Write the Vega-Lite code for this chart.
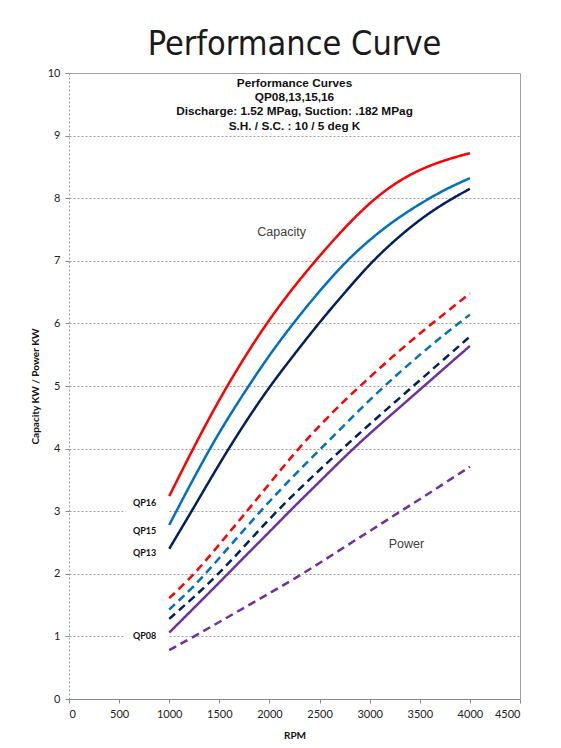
{
  "$schema": "https://vega.github.io/schema/vega-lite/v6.json",
  "autosize": "none",
  "width": 451,
  "height": 626,
  "padding": {"left": 69, "top": 73, "right": 41, "bottom": 49},
  "background": "white",
  "title": {
    "text": "Performance Curve",
    "font": "Liberation Sans Narrow, DejaVu Sans Condensed, sans-serif",
    "fontSize": 34,
    "fontWeight": "normal",
    "color": "#1a1a1a",
    "anchor": "middle",
    "frame": "group",
    "baseline": "top",
    "offset": 5
  },
  "config": {
    "view": {"stroke": null},
    "axis": {
      "labelFont": "Lato",
      "labelFontSize": 11,
      "labelColor": "#222222",
      "titleFont": "Lato",
      "titleFontSize": 10,
      "titleFontWeight": "bold",
      "titleColor": "#111111",
      "tickColor": "#8a8a8a",
      "tickSize": 4,
      "domainColor": "#8a8a8a"
    }
  },
  "datasets": {
    "curves": [
      {"model": "QP16", "kind": "Capacity", "rpm": 1000, "kw": 3.24},
      {"model": "QP16", "kind": "Capacity", "rpm": 1250, "kw": 4.04},
      {"model": "QP16", "kind": "Capacity", "rpm": 1500, "kw": 4.79},
      {"model": "QP16", "kind": "Capacity", "rpm": 1750, "kw": 5.46},
      {"model": "QP16", "kind": "Capacity", "rpm": 2000, "kw": 6.07},
      {"model": "QP16", "kind": "Capacity", "rpm": 2250, "kw": 6.60},
      {"model": "QP16", "kind": "Capacity", "rpm": 2500, "kw": 7.08},
      {"model": "QP16", "kind": "Capacity", "rpm": 2750, "kw": 7.53},
      {"model": "QP16", "kind": "Capacity", "rpm": 3000, "kw": 7.93},
      {"model": "QP16", "kind": "Capacity", "rpm": 3250, "kw": 8.24},
      {"model": "QP16", "kind": "Capacity", "rpm": 3500, "kw": 8.46},
      {"model": "QP16", "kind": "Capacity", "rpm": 3750, "kw": 8.61},
      {"model": "QP16", "kind": "Capacity", "rpm": 4000, "kw": 8.72},
      {"model": "QP15", "kind": "Capacity", "rpm": 1000, "kw": 2.78},
      {"model": "QP15", "kind": "Capacity", "rpm": 1250, "kw": 3.55},
      {"model": "QP15", "kind": "Capacity", "rpm": 1500, "kw": 4.27},
      {"model": "QP15", "kind": "Capacity", "rpm": 1750, "kw": 4.90},
      {"model": "QP15", "kind": "Capacity", "rpm": 2000, "kw": 5.50},
      {"model": "QP15", "kind": "Capacity", "rpm": 2250, "kw": 6.03},
      {"model": "QP15", "kind": "Capacity", "rpm": 2500, "kw": 6.52},
      {"model": "QP15", "kind": "Capacity", "rpm": 2750, "kw": 6.97},
      {"model": "QP15", "kind": "Capacity", "rpm": 3000, "kw": 7.34},
      {"model": "QP15", "kind": "Capacity", "rpm": 3250, "kw": 7.65},
      {"model": "QP15", "kind": "Capacity", "rpm": 3500, "kw": 7.91},
      {"model": "QP15", "kind": "Capacity", "rpm": 3750, "kw": 8.14},
      {"model": "QP15", "kind": "Capacity", "rpm": 4000, "kw": 8.32},
      {"model": "QP13", "kind": "Capacity", "rpm": 1000, "kw": 2.40},
      {"model": "QP13", "kind": "Capacity", "rpm": 1250, "kw": 3.07},
      {"model": "QP13", "kind": "Capacity", "rpm": 1500, "kw": 3.76},
      {"model": "QP13", "kind": "Capacity", "rpm": 1750, "kw": 4.40},
      {"model": "QP13", "kind": "Capacity", "rpm": 2000, "kw": 4.99},
      {"model": "QP13", "kind": "Capacity", "rpm": 2250, "kw": 5.51},
      {"model": "QP13", "kind": "Capacity", "rpm": 2500, "kw": 6.02},
      {"model": "QP13", "kind": "Capacity", "rpm": 2750, "kw": 6.49},
      {"model": "QP13", "kind": "Capacity", "rpm": 3000, "kw": 6.95},
      {"model": "QP13", "kind": "Capacity", "rpm": 3250, "kw": 7.33},
      {"model": "QP13", "kind": "Capacity", "rpm": 3500, "kw": 7.66},
      {"model": "QP13", "kind": "Capacity", "rpm": 3750, "kw": 7.93},
      {"model": "QP13", "kind": "Capacity", "rpm": 4000, "kw": 8.15},
      {"model": "QP08", "kind": "Capacity", "rpm": 1000, "kw": 1.06},
      {"model": "QP08", "kind": "Capacity", "rpm": 1250, "kw": 1.46},
      {"model": "QP08", "kind": "Capacity", "rpm": 1500, "kw": 1.86},
      {"model": "QP08", "kind": "Capacity", "rpm": 1750, "kw": 2.27},
      {"model": "QP08", "kind": "Capacity", "rpm": 2000, "kw": 2.67},
      {"model": "QP08", "kind": "Capacity", "rpm": 2250, "kw": 3.08},
      {"model": "QP08", "kind": "Capacity", "rpm": 2500, "kw": 3.47},
      {"model": "QP08", "kind": "Capacity", "rpm": 2750, "kw": 3.87},
      {"model": "QP08", "kind": "Capacity", "rpm": 3000, "kw": 4.24},
      {"model": "QP08", "kind": "Capacity", "rpm": 3250, "kw": 4.59},
      {"model": "QP08", "kind": "Capacity", "rpm": 3500, "kw": 4.94},
      {"model": "QP08", "kind": "Capacity", "rpm": 3750, "kw": 5.29},
      {"model": "QP08", "kind": "Capacity", "rpm": 4000, "kw": 5.64},
      {"model": "QP16", "kind": "Power", "rpm": 1000, "kw": 1.61},
      {"model": "QP16", "kind": "Power", "rpm": 1250, "kw": 1.99},
      {"model": "QP16", "kind": "Power", "rpm": 1500, "kw": 2.47},
      {"model": "QP16", "kind": "Power", "rpm": 1750, "kw": 2.95},
      {"model": "QP16", "kind": "Power", "rpm": 2000, "kw": 3.44},
      {"model": "QP16", "kind": "Power", "rpm": 2250, "kw": 3.93},
      {"model": "QP16", "kind": "Power", "rpm": 2500, "kw": 4.37},
      {"model": "QP16", "kind": "Power", "rpm": 2750, "kw": 4.77},
      {"model": "QP16", "kind": "Power", "rpm": 3000, "kw": 5.14},
      {"model": "QP16", "kind": "Power", "rpm": 3250, "kw": 5.50},
      {"model": "QP16", "kind": "Power", "rpm": 3500, "kw": 5.84},
      {"model": "QP16", "kind": "Power", "rpm": 3750, "kw": 6.16},
      {"model": "QP16", "kind": "Power", "rpm": 4000, "kw": 6.48},
      {"model": "QP15", "kind": "Power", "rpm": 1000, "kw": 1.43},
      {"model": "QP15", "kind": "Power", "rpm": 1250, "kw": 1.80},
      {"model": "QP15", "kind": "Power", "rpm": 1500, "kw": 2.25},
      {"model": "QP15", "kind": "Power", "rpm": 1750, "kw": 2.71},
      {"model": "QP15", "kind": "Power", "rpm": 2000, "kw": 3.16},
      {"model": "QP15", "kind": "Power", "rpm": 2250, "kw": 3.58},
      {"model": "QP15", "kind": "Power", "rpm": 2500, "kw": 3.98},
      {"model": "QP15", "kind": "Power", "rpm": 2750, "kw": 4.38},
      {"model": "QP15", "kind": "Power", "rpm": 3000, "kw": 4.78},
      {"model": "QP15", "kind": "Power", "rpm": 3250, "kw": 5.15},
      {"model": "QP15", "kind": "Power", "rpm": 3500, "kw": 5.50},
      {"model": "QP15", "kind": "Power", "rpm": 3750, "kw": 5.83},
      {"model": "QP15", "kind": "Power", "rpm": 4000, "kw": 6.14},
      {"model": "QP13", "kind": "Power", "rpm": 1000, "kw": 1.28},
      {"model": "QP13", "kind": "Power", "rpm": 1250, "kw": 1.63},
      {"model": "QP13", "kind": "Power", "rpm": 1500, "kw": 2.01},
      {"model": "QP13", "kind": "Power", "rpm": 1750, "kw": 2.44},
      {"model": "QP13", "kind": "Power", "rpm": 2000, "kw": 2.88},
      {"model": "QP13", "kind": "Power", "rpm": 2250, "kw": 3.28},
      {"model": "QP13", "kind": "Power", "rpm": 2500, "kw": 3.66},
      {"model": "QP13", "kind": "Power", "rpm": 2750, "kw": 4.03},
      {"model": "QP13", "kind": "Power", "rpm": 3000, "kw": 4.39},
      {"model": "QP13", "kind": "Power", "rpm": 3250, "kw": 4.74},
      {"model": "QP13", "kind": "Power", "rpm": 3500, "kw": 5.09},
      {"model": "QP13", "kind": "Power", "rpm": 3750, "kw": 5.44},
      {"model": "QP13", "kind": "Power", "rpm": 4000, "kw": 5.79},
      {"model": "QP08", "kind": "Power", "rpm": 1000, "kw": 0.78},
      {"model": "QP08", "kind": "Power", "rpm": 1250, "kw": 1.00},
      {"model": "QP08", "kind": "Power", "rpm": 1500, "kw": 1.23},
      {"model": "QP08", "kind": "Power", "rpm": 1750, "kw": 1.46},
      {"model": "QP08", "kind": "Power", "rpm": 2000, "kw": 1.69},
      {"model": "QP08", "kind": "Power", "rpm": 2250, "kw": 1.92},
      {"model": "QP08", "kind": "Power", "rpm": 2500, "kw": 2.17},
      {"model": "QP08", "kind": "Power", "rpm": 2750, "kw": 2.43},
      {"model": "QP08", "kind": "Power", "rpm": 3000, "kw": 2.68},
      {"model": "QP08", "kind": "Power", "rpm": 3250, "kw": 2.94},
      {"model": "QP08", "kind": "Power", "rpm": 3500, "kw": 3.19},
      {"model": "QP08", "kind": "Power", "rpm": 3750, "kw": 3.45},
      {"model": "QP08", "kind": "Power", "rpm": 4000, "kw": 3.71}
    ],
    "labelboxes": [
      {"rpm": 566, "rpm2": 985, "kw": 2.2, "kw2": 3.3},
      {"rpm": 566, "rpm2": 985, "kw": 0.9, "kw2": 1.12}
    ],
    "modellabels": [
      {"label": "QP16", "rpm": 755, "kw": 3.13},
      {"label": "QP15", "rpm": 755, "kw": 2.69},
      {"label": "QP13", "rpm": 755, "kw": 2.34},
      {"label": "QP08", "rpm": 755, "kw": 1.01}
    ],
    "notes": [
      {"label": "Capacity", "rpm": 2121, "kw": 7.46},
      {"label": "Power", "rpm": 3367, "kw": 2.47}
    ],
    "header": [
      {"label": "Performance Curves", "rpm": 2250, "kw": 9.84},
      {"label": "QP08,13,15,16", "rpm": 2250, "kw": 9.61},
      {"label": "Discharge: 1.52 MPag, Suction: .182 MPag", "rpm": 2250, "kw": 9.39},
      {"label": "S.H. / S.C. : 10 / 5 deg K", "rpm": 2250, "kw": 9.15}
    ]
  },
  "layer": [
    {
      "data": {"name": "labelboxes"},
      "mark": {"type": "rect", "fill": "white", "stroke": null},
      "encoding": {
        "x": {
          "field": "rpm", "type": "quantitative",
          "scale": {"domain": [0, 4500], "nice": false, "zero": false},
          "axis": {
            "title": "RPM",
            "format": "d",
            "values": [0, 500, 1000, 1500, 2000, 2500, 3000, 3500, 4000, 4500],
            "labelPadding": 5,
            "titlePadding": 11,
            "grid": true,
            "gridColor": "#a0a0a0",
            "gridOpacity": {"condition": {"test": "datum.value === 0 || datum.value === 4500", "value": 1}, "value": 0},
            "gridDash": {"condition": {"test": "datum.value === 4500", "value": []}, "value": [2, 2]}
          }
        },
        "x2": {"field": "rpm2"},
        "y": {
          "field": "kw", "type": "quantitative",
          "scale": {"domain": [0, 10], "nice": false, "zero": false},
          "axis": {
            "title": "Capacity KW / Power KW",
            "format": "d",
            "values": [0, 1, 2, 3, 4, 5, 6, 7, 8, 9, 10],
            "domain": false,
            "labelPadding": 5,
            "titlePadding": 7,
            "grid": true,
            "gridColor": "#a0a0a0",
            "gridDash": {"condition": {"test": "datum.value === 10", "value": []}, "value": [2, 2]}
          }
        },
        "y2": {"field": "kw2"}
      }
    },
    {
      "data": {"name": "curves"},
      "mark": {"type": "line", "strokeWidth": 2.5, "interpolate": "basis"},
      "encoding": {
        "x": {"field": "rpm", "type": "quantitative"},
        "y": {"field": "kw", "type": "quantitative"},
        "color": {
          "field": "model", "type": "nominal",
          "scale": {"domain": ["QP16", "QP15", "QP13", "QP08"], "range": ["#ff0000", "#0070c0", "#002060", "#7030a0"]},
          "legend": null
        },
        "strokeDash": {
          "field": "kind", "type": "nominal",
          "scale": {"domain": ["Capacity", "Power"], "range": [[1, 0], [8, 5]]},
          "legend": null
        }
      }
    },
    {
      "data": {"name": "modellabels"},
      "mark": {"type": "text", "font": "Lato", "fontSize": 9, "fontWeight": "bold", "color": "#111111", "align": "center", "baseline": "middle"},
      "encoding": {
        "x": {"field": "rpm", "type": "quantitative"},
        "y": {"field": "kw", "type": "quantitative"},
        "text": {"field": "label"}
      }
    },
    {
      "data": {"name": "notes"},
      "mark": {"type": "text", "font": "Liberation Sans", "fontSize": 12.5, "color": "#404040", "align": "center", "baseline": "middle"},
      "encoding": {
        "x": {"field": "rpm", "type": "quantitative"},
        "y": {"field": "kw", "type": "quantitative"},
        "text": {"field": "label"}
      }
    },
    {
      "data": {"name": "header"},
      "mark": {"type": "text", "font": "Liberation Sans", "fontSize": 11.8, "fontWeight": "bold", "color": "#111111", "align": "center", "baseline": "middle"},
      "encoding": {
        "x": {"field": "rpm", "type": "quantitative"},
        "y": {"field": "kw", "type": "quantitative"},
        "text": {"field": "label"}
      }
    }
  ]
}
